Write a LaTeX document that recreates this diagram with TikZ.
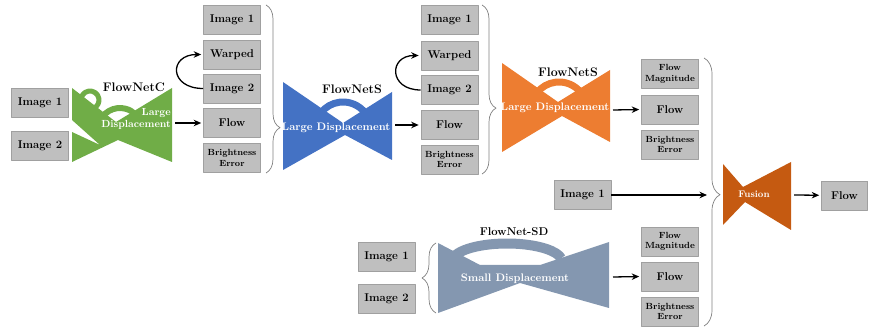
\documentclass[tikz,border=0pt]{standalone}
\usetikzlibrary{arrows.meta, calc, decorations.pathreplacing}

\definecolor{netgreen}{HTML}{70AD47}
\definecolor{netblue}{HTML}{4472C4}
\definecolor{netorange}{HTML}{ED7D31}
\definecolor{netfusion}{HTML}{C55A11}
\definecolor{netslate}{HTML}{8497B0}
\definecolor{boxgray}{HTML}{BFBFBF}
\definecolor{boxedge}{HTML}{A0A0A0}
\definecolor{braceedge}{HTML}{808080}

\tikzset{
	imgbox/.style={draw=boxedge, fill=boxgray, line width=0.6pt, minimum width=57pt,
		minimum height=29pt, inner sep=1pt, align=center, font=\fontsize{11.3}{13}\bfseries},
	smallbox/.style={imgbox, font=\fontsize{8.9}{10.5}\bfseries},
	netlabel/.style={font=\fontsize{12.4}{14}\bfseries, inner sep=0pt},
	inlabel/.style={text=white, font=\fontsize{10.9}{12}\bfseries, inner sep=0pt},
	flowarrow/.style={-{Stealth[length=7.5pt, width=6.5pt]}, line width=1.3pt, shorten >=2pt},
	groupbrace/.style={draw=braceedge, line width=0.7pt, decorate,
		decoration={brace, amplitude=14pt, aspect=#1}},
}

\begin{document}
\begin{tikzpicture}[x=1pt, y=1pt, line join=round]
		
		\useasboundingbox (0,0) rectangle (870,-328);
		
		% 1. Inputs and FlowNetC
		\node[imgbox] (inA1) at (40,-103) {Image 1};
		\node[imgbox] (inA2) at (40,-146) {Image 2};
		
		\fill[netgreen] (72,-88) -- (116,-122) -- (172,-88) -- (172,-162) -- (118,-140)
		-- (72,-162) -- (72,-132) -- (100,-145) -- (72,-120) -- cycle;
		\draw[netgreen, line width=6pt] (120,-130) ++(165:22) arc (165:15:22);
		\draw[netgreen, line width=5pt] (90,-100) ++(190:9) arc (190:-60:9);
		\node[netlabel] (cname) at (134,-87) {FlowNetC};
		\node[inlabel, font=\fontsize{10.3}{12}\bfseries, align=right, anchor=east]
		(cdisp) at (171,-119) {Large\\Displacement};
		\coordinate (cout) at (175,-123);
		
		% 2. First stack
		\node[imgbox] (b1img1) at (232,-19.5) {Image 1};
		\node[imgbox] (b1warp) at (232,-54.5) {Warped};
		\node[imgbox] (b1img2) at (232,-88.5) {Image 2};
		\node[imgbox] (b1flow) at (232,-123) {Flow};
		\node[smallbox] (b1err) at (232,-158) {Brightness\\Error};
		\draw[flowarrow] (cout) -- (b1flow.west);
		\draw[flowarrow] (b1img2.west) to[out=180, in=180, looseness=2.6] (b1warp.west);
		\draw[groupbrace=0.73] (266,-5) -- (266,-173);
		
		% 3. FlowNetS, blue
		\fill[netblue] (283,-82) -- (343,-123) -- (392,-92) -- (392,-160) -- (345,-135)
		-- (283,-170) -- cycle;
		\draw[netblue, line width=7pt] (343,-130) ++(165:28) arc (165:15:28);
		\node[netlabel] (sname) at (352,-89) {FlowNetS};
		\node[inlabel] (sdisp) at (336,-128) {Large Displacement};
		\coordinate (sout) at (395,-125);
		
		% 4. Second stack
		\node[imgbox] (b2img1) at (449.5,-20) {Image 1};
		\node[imgbox] (b2warp) at (449.5,-55.5) {Warped};
		\node[imgbox] (b2img2) at (449.5,-90) {Image 2};
		\node[imgbox] (b2flow) at (449.5,-125) {Flow};
		\node[smallbox] (b2err) at (449.5,-159.5) {Brightness\\Error};
		\draw[flowarrow] (sout) -- (b2flow.west);
		\draw[flowarrow] (b2img2.west) to[out=180, in=180, looseness=2.4] (b2warp.west);
		\draw[groupbrace=0.61] (482,-5) -- (482,-174);
		
		% 5. FlowNetS, orange
		\fill[netorange] (502,-63) -- (558,-102) -- (610,-70) -- (610,-142) -- (562,-116)
		-- (502,-152) -- cycle;
		\draw[netorange, line width=7pt] (559,-110) ++(165:28) arc (165:15:28);
		\node[netlabel] (oname) at (568,-72) {FlowNetS};
		\node[inlabel] (odisp) at (555,-108) {Large Displacement};
		\coordinate (oout) at (613,-110);
		
		% 6. Third stack
		\node[smallbox] (b3mag) at (670,-74) {Flow\\Magnitude};
		\node[imgbox] (b3flow) at (670,-109.5) {Flow};
		\node[smallbox] (b3err) at (670,-144.5) {Brightness\\Error};
		\draw[flowarrow] (oout) -- (b3flow.west);
		
		% 7. FlowNet-SD
		\node[imgbox] (sdimg1) at (386.5,-257) {Image 1};
		\node[imgbox] (sdimg2) at (386.5,-299) {Image 2};
		\draw[groupbrace=0.5] (436,-313) -- (436,-243);
		\fill[netslate] (438,-243) -- (480,-265) -- (540,-265) -- (609,-242) -- (609,-308)
		-- (520,-283) -- (438,-313) -- cycle;
		\draw[netslate, line width=10pt] (507,-261.5) ++(170:55 and 18) arc (170:10:55 and 18);
		\node[netlabel, font=\fontsize{11.3}{13}\bfseries] (sdname) at (514,-232) {FlowNet-SD};
		\node[inlabel] (sddisp) at (515,-279) {Small Displacement};
		\coordinate (sdout) at (613,-277);
		
		% 8. Fourth stack
		\node[smallbox] (b4mag) at (670,-241.5) {Flow\\Magnitude};
		\node[imgbox] (b4flow) at (670,-276.5) {Flow};
		\node[smallbox] (b4err) at (670,-311.5) {Brightness\\Error};
		\draw[flowarrow] (sdout) -- (b4flow.west);
		
		% 9. Fusion
		\draw[groupbrace=0.51, decoration={amplitude=16pt}] (704,-58) -- (704,-326);
		\node[imgbox] (midimg1) at (582.5,-195) {Image 1};
		\coordinate (fin) at (709,-195);
		\draw[flowarrow] (midimg1) -- (fin);
		\fill[netfusion] (723,-164) -- (743,-187) -- (791,-162) -- (791,-230) -- (745,-202)
		-- (723,-225) -- cycle;
		\node[inlabel, font=\fontsize{9.6}{11}\bfseries] (fusename) at (754,-194) {Fusion};
		\coordinate (fout) at (794,-195);
		\node[imgbox, minimum width=46pt] (final) at (844.5,-195.5) {Flow};
		\draw[flowarrow] (fout) -- (final);
		
	\end{tikzpicture}
\end{document}
